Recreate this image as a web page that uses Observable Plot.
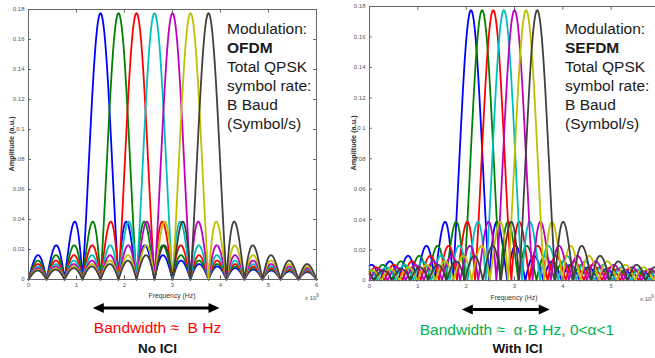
<!DOCTYPE html>
<html><head><meta charset="utf-8">
<script src="https://cdn.jsdelivr.net/npm/d3@7"></script>
<script src="https://cdn.jsdelivr.net/npm/@observablehq/plot@0.6"></script>
<style>
body{margin:0;background:#fff;}
#wrap{position:relative;width:655px;height:358px;overflow:hidden;background:#fff;font-family:"Liberation Sans",Arial,sans-serif;}
.panel{position:absolute;top:0;}
.mod{position:absolute;font-size:15.5px;line-height:19px;color:#1a1a1a;white-space:nowrap;}
.ylab{position:absolute;font-size:7.3px;font-weight:bold;color:#333;transform:translate(-50%,-50%) rotate(-90deg);white-space:nowrap;}
.xlab{position:absolute;font-size:6.8px;color:#333;transform:translate(-50%,-50%);white-space:nowrap;}
.exp{position:absolute;font-size:6px;color:#555;white-space:nowrap;}
.bw{position:absolute;font-size:15.5px;transform:translate(-50%,-50%);white-space:nowrap;}
.ici{position:absolute;font-size:13.5px;font-weight:bold;color:#111;transform:translate(-50%,-50%);white-space:nowrap;}
</style></head><body><div id="wrap"></div>
<script>
// ---- data (frequencies in units of 10^9 Hz) ----
const carrierColors = ["#0000ff", "#008000", "#ff0000", "#00bfbf", "#bf00bf", "#bfbf00", "#404040"];
const ofdmCenters  = [1.5, 1.875, 2.25, 2.625, 3.0, 3.375, 3.75];
const sefdmCenters = [2.10, 2.33, 2.56, 2.78, 3.00, 3.24, 3.47];
const peakAmplitude = 0.1775;
const nullSpacing = 0.375;        // sinc null spacing (1/T)
const xTicks = [0, 1, 2, 3, 4, 5, 6];
const xTickLabelsRight = [0, 1, 2, 3, 4, 5];
const yTicks = [0, 0.02, 0.04, 0.06, 0.08, 0.1, 0.12, 0.14, 0.16, 0.18];
const ofdmBand  = [1.35, 3.99];
const sefdmBand = [1.92, 3.74];
const modLinesOFDM  = ["Modulation:", "<b>OFDM</b>", "Total QPSK", "symbol rate:", "B Baud", "(Symbol/s)"];
const modLinesSEFDM = ["Modulation:", "<b>SEFDM</b>", "Total QPSK", "symbol rate:", "B Baud", "(Symbol/s)"];

function spectrum(centers) {
  const rows = [];
  const grid = d3.range(0, 6.0001, 0.003);
  centers.forEach((c, k) => {
    for (const x of grid) {
      const u = Math.PI * (x - c) / nullSpacing;
      const s = Math.abs(u) < 1e-9 ? 1 : Math.abs(Math.sin(u) / u);
      rows.push({x, y: peakAmplitude * s, k});
    }
  });
  return rows;
}

function panel(centers, labelTicks, m) {
  return Plot.plot({
    width: 330, height: 305,
    marginLeft: m.left, marginRight: m.right, marginTop: m.top, marginBottom: m.bottom,
    style: {fontSize: "6px", fontFamily: "Liberation Sans, Arial, sans-serif", color: "#555", background: "transparent"},
    x: {domain: [0, 6], ticks: labelTicks, tickSize: 0, tickPadding: 3, label: null, tickFormat: d => String(d)},
    y: {domain: [0, 0.18], ticks: yTicks, tickSize: 0, tickPadding: 4, label: null, tickFormat: d => String(+d.toFixed(2))},
    marks: [
      Plot.line(spectrum(centers), {x: "x", y: "y", z: "k", stroke: d => carrierColors[d.k], strokeWidth: 1.8}),
      Plot.ruleX(xTicks, {x: d => d, y1: 0, y2: 0.0025, stroke: "#666"}),
      Plot.ruleX(xTicks, {x: d => d, y1: 0.18, y2: 0.1775, stroke: "#666"}),
      Plot.ruleY(yTicks, {y: d => d, x1: 0, x2: 0.06, stroke: "#666"}),
      Plot.ruleY(yTicks, {y: d => d, x1: 5.94, x2: 6, stroke: "#666"}),
      Plot.frame({stroke: "#666"})
    ]
  });
}

const wrap = document.getElementById("wrap");
const left = panel(ofdmCenters, xTicks, {left: 28, right: 14, top: 9, bottom: 26});
const right = panel(sefdmCenters, xTickLabelsRight, {left: 39, right: 1, top: 6, bottom: 25});
left.classList.add("panel"); left.style.left = "0px";
right.classList.add("panel"); right.style.left = "330px";
wrap.appendChild(left); wrap.appendChild(right);

function addDiv(cls, html, x, y, color) {
  const d = document.createElement("div");
  d.className = cls; d.innerHTML = html;
  d.style.left = x + "px"; d.style.top = y + "px";
  if (color) d.style.color = color;
  wrap.appendChild(d);
  return d;
}

addDiv("mod", modLinesOFDM.join("<br>"), 227, 18.5);
addDiv("mod", modLinesSEFDM.join("<br>"), 565, 18.5);
addDiv("ylab", "Amplitude (a.u.)", 11, 144);
addDiv("ylab", "Amplitude (a.u.)", 353, 143);
addDiv("xlab", "Frequency (Hz)", 172, 295);
addDiv("xlab", "Frequency (Hz)", 514, 297);
addDiv("exp", "x 10<sup style='font-size:4.5px'>9</sup>", 305, 293);
addDiv("exp", "x 10<sup style='font-size:4.5px'>9</sup>", 640, 294);

// arrows placed through each panel's x scale
const ov = d3.select(wrap).append("svg")
  .attr("width", 655).attr("height", 358)
  .style("position", "absolute").style("left", 0).style("top", 0);
function arrow(chart, offset, band, y) {
  const sx = chart.scale("x");
  const x1 = offset + sx.apply(band[0]), x2 = offset + sx.apply(band[1]);
  const g = ov.append("g").attr("fill", "#000").attr("stroke", "#000");
  g.append("line").attr("x1", x1 + 6).attr("x2", x2 - 6).attr("y1", y).attr("y2", y).attr("stroke-width", 3);
  g.append("path").attr("stroke", "none").attr("d", `M${x1},${y}L${x1 + 11},${y - 5}L${x1 + 11},${y + 5}Z`);
  g.append("path").attr("stroke", "none").attr("d", `M${x2},${y}L${x2 - 11},${y - 5}L${x2 - 11},${y + 5}Z`);
}
arrow(left, 0, ofdmBand, 308);
arrow(right, 330, sefdmBand, 309.5);

addDiv("bw", "Bandwidth ≈&nbsp; B Hz", 157.5, 328, "#ff0000");
addDiv("ici", "No ICI", 157.5, 348);
addDiv("bw", "Bandwidth ≈&nbsp; α·B Hz, 0&lt;α&lt;1", 517, 330, "#00b050");
addDiv("ici", "With ICI", 517.5, 348);
</script></body></html>
